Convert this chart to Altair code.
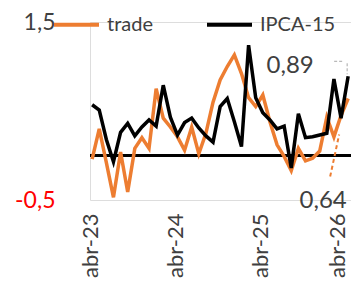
import altair as alt
import pandas as pd

# months from abr-23 to abr-26 (index 0..36)
tick_idx = [0, 12, 24, 36]
tick_labels = ["abr-23", "abr-24", "abr-25", "abr-26"]
y_ticks = [-0.5, 1.5]

trade = [-0.04, 0.30, -0.08, -0.47, 0.04, -0.41, 0.08, 0.20, 0.08, 0.75,
         0.42, 0.32, 0.21, 0.06, 0.32, 0.02, 0.25, 0.60, 0.85, 1.00,
         1.13, 0.92, 0.65, 0.55, 0.68, 0.38, 0.12, -0.01, -0.17, 0.08,
         -0.06, -0.03, 0.05, 0.43, 0.21, 0.45, 0.64]
ipca15 = [0.57, 0.51, 0.18, -0.07, 0.26, 0.36, 0.22, 0.32, 0.40, 0.33,
          0.79, 0.43, 0.23, 0.37, 0.42, 0.31, 0.22, 0.15, 0.55, 0.64,
          0.38, 0.10, 1.24, 0.65, 0.48, 0.40, 0.30, 0.33, -0.14, 0.47,
          0.20, 0.21, 0.23, 0.25, 0.86, 0.42, 0.89]

series_names = ["trade", "IPCA-15"]
series_colors = ["#ED7D31", "#000000"]

rows = []
for name, vals in zip(series_names, [trade, ipca15]):
    for i, v in enumerate(vals):
        rows.append({"i": i, "serie": name, "valor": v,
                     "rotulo": f"{v:.2f}".replace(".", ",")})
df = pd.DataFrame(rows)
df_trade = df[df.serie == "trade"]
df_ipca = df[df.serie == "IPCA-15"]
last_trade = df_trade[df_trade.i == len(trade) - 1]
last_ipca = df_ipca[df_ipca.i == len(ipca15) - 1]

label_expr = "[" + ",".join(f"'{t}'" for t in tick_labels) + "][round(datum.value/12)]"

x = alt.X("i:Q", scale=alt.Scale(domain=[-0.3, 36.4], nice=False, zero=False),
          axis=alt.Axis(values=tick_idx, labelExpr=label_expr, labelAngle=-90,
                        ticks=False, domain=False, grid=False, labelPadding=13,
                        labelFlush=False, labelFontSize=22, labelColor="#404040",
                        labelOffset={"condition": {"test": "datum.value >= 36", "value": -11},
                                     "value": -2},
                        title=None))
y = alt.Y("valor:Q", scale=alt.Scale(domain=[-0.5, 1.5], nice=False, zero=False),
          axis=alt.Axis(values=y_ticks, ticks=False, domain=False, grid=False,
                        labelPadding=35, labelFontSize=23, labelFlush=False, title=None,
                        labelBaseline="middle",
                        labelExpr="replace(replace(format(datum.value, '.1f'), '.', ','), '\u2212', '-')",
                        labelColor={"condition": {"test": "datum.value < 0", "value": "#FF0000"},
                                    "value": "#404040"}))

color = alt.Color("serie:N", scale=alt.Scale(domain=series_names, range=series_colors),
                  legend=alt.Legend(orient="none", legendX=-38, legendY=-22,
                                    direction="horizontal", title=None,
                                    symbolType="stroke", symbolSize=2025,
                                    symbolStrokeWidth=4, labelFontSize=20,
                                    labelColor="#404040", labelOffset=6,
                                    columnPadding=46))

zero = alt.Chart(df_trade).mark_rule(color="#000000", strokeWidth=1.5).encode(y=alt.datum(0))

line_trade = alt.Chart(df_trade).mark_line(strokeWidth=3.5).encode(x=x, y=y, color=color)
line_ipca = alt.Chart(df_ipca).mark_line(strokeWidth=3.5).encode(x=x, y=y, color=color)

lab_ipca = alt.Chart(last_ipca).mark_text(dx=-58, dy=-10, fontSize=24, color="#404040").encode(
    x="i:Q", y="valor:Q", text="rotulo:N")
lab_trade = alt.Chart(last_trade).mark_text(dx=-25, dy=102, fontSize=24, color="#404040").encode(
    x="i:Q", y="valor:Q", text="rotulo:N")

lead_trade = alt.Chart(last_trade).mark_rule(
    color="#ED7D31", strokeWidth=2, strokeDash=[4, 3],
    xOffset=-18, yOffset=78, x2Offset=-9, y2Offset=36).encode(
    x="i:Q", y="valor:Q", x2="i:Q", y2="valor:Q")
lead_ipca_h = alt.Chart(last_ipca).mark_rule(
    color="#A6A6A6", strokeWidth=1, strokeDash=[3, 2],
    xOffset=-14, x2Offset=-6, yOffset=-15, y2Offset=-15).encode(
    x="i:Q", y="valor:Q", x2="i:Q", y2="valor:Q")
lead_ipca_v = alt.Chart(last_ipca).mark_rule(
    color="#A6A6A6", strokeWidth=1, strokeDash=[3, 2],
    xOffset=-1, x2Offset=-1, yOffset=-13, y2Offset=-2).encode(
    x="i:Q", y="valor:Q", x2="i:Q", y2="valor:Q")

chart = alt.layer(zero, line_trade, line_ipca, lead_trade, lead_ipca_h, lead_ipca_v,
                  lab_ipca, lab_trade).properties(
    width=261, height=178,
    autosize=alt.AutoSizeParams(type="none"),
    padding={"left": 82, "top": 14, "right": 0, "bottom": 80},
).configure_view(stroke=None).configure(font="Lato")

chart.save("out.html", embed_options={"renderer": "svg", "actions": False})
